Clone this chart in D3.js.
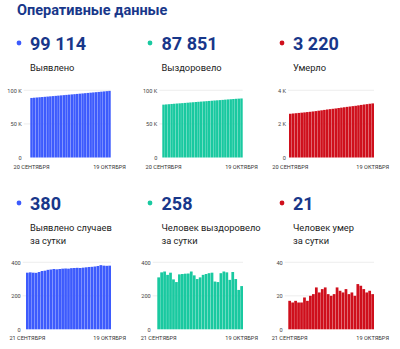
<!DOCTYPE html>
<html>
<head>
<meta charset="utf-8">
<script src="https://cdn.jsdelivr.net/npm/d3@7/dist/d3.min.js"></script>
<style>
  html, body { margin: 0; padding: 0; background: #fff; }
  svg { display: block; font-family: Roboto, "Noto Sans", sans-serif; }
</style>
</head>
<body>
<svg id="chart" width="400" height="349"></svg>
<script>
// Cumulative totals, 20 September – 19 October
const totalCases = [88622, 88960, 89300, 89638, 89975, 90317, 90665, 91015, 91370, 91727,
  92087, 92445, 92805, 93167, 93530, 93892, 94257, 94623, 94990, 95356,
  95724, 96094, 96466, 96839, 97214, 97592, 97975, 98355, 98734, 99114];
const totalRecovered = [78668, 78978, 79318, 79663, 79988, 80326, 80624, 80906, 81234, 81564,
  81896, 82229, 82574, 82896, 83196, 83506, 83831, 84161, 84496, 84834,
  85119, 85401, 85736, 86081, 86421, 86716, 87058, 87358, 87593, 87851];
const totalDeaths = [2603, 2620, 2636, 2653, 2669, 2685, 2704, 2721, 2741, 2762,
  2787, 2809, 2833, 2858, 2879, 2899, 2920, 2945, 2968, 2990,
  3014, 3035, 3057, 3077, 3104, 3130, 3154, 3176, 3199, 3220];

// Daily figures, 21 September – 19 October
const dailyCases = [338, 340, 338, 337, 342, 348, 350, 355, 357, 360, 358, 360, 362, 363, 362,
  365, 366, 367, 366, 368, 370, 372, 373, 375, 378, 383, 380, 379, 380];
const dailyRecovered = [310, 340, 345, 325, 338, 298, 282, 328, 330, 332, 333, 345, 322, 300, 310,
  325, 330, 335, 338, 285, 282, 335, 345, 340, 295, 342, 300, 235, 258];
const dailyDeaths = [17, 16, 17, 16, 16, 19, 17, 20, 21, 25, 22, 24, 25, 21, 20,
  21, 25, 23, 22, 24, 21, 22, 20, 27, 26, 24, 22, 23, 21];

const headline = "Оперативные данные";
const headlineNumbers = ["99 114", "87 851", "3 220", "380", "258", "21"];
const panelTitles = [["Выявлено"], ["Выздоровело"], ["Умерло"],
  ["Выявлено случаев", "за сутки"], ["Человек выздоровело", "за сутки"], ["Человек умер", "за сутки"]];
const totalDateLabels = ["20 СЕНТЯБРЯ", "19 ОКТЯБРЯ"];
const dailyDateLabels = ["21 СЕНТЯБРЯ", "19 ОКТЯБРЯ"];
const totalTicksK = [0, 50000, 100000];
const totalTicksDeaths = [0, 2000, 4000];
const dailyTicks = [0, 200, 400];
const dailyTicksDeaths = [0, 20, 40];

const BLUE = "#3d5bfd", TEAL = "#19c9a0", RED = "#cf0f1c";
const NAVY = "#18378a";

const fmtK = d => d === 0 ? "0" : (d / 1000) + " K";
const fmtPlain = d => String(d);

// layout for each panel
const panels = [
  { values: totalCases, color: BLUE, ticks: totalTicksK, max: 100000, fmt: fmtK, dates: totalDateLabels,
    col: 0, row: 0, x0: 30.3, x1: 110.7, labelX: 21.7 },
  { values: totalRecovered, color: TEAL, ticks: totalTicksK, max: 100000, fmt: fmtK, dates: totalDateLabels,
    col: 1, row: 0, x0: 162.3, x1: 242.7, labelX: 157.3 },
  { values: totalDeaths, color: RED, ticks: totalTicksDeaths, max: 4000, fmt: fmtK, dates: totalDateLabels,
    col: 2, row: 0, x0: 289, x1: 374, labelX: 286 },
  { values: dailyCases, color: BLUE, ticks: dailyTicks, max: 400, fmt: fmtPlain, dates: dailyDateLabels,
    col: 0, row: 1, x0: 26, x1: 111, labelX: 20.7 },
  { values: dailyRecovered, color: TEAL, ticks: dailyTicks, max: 400, fmt: fmtPlain, dates: dailyDateLabels,
    col: 1, row: 1, x0: 157.3, x1: 243, labelX: 150.7 },
  { values: dailyDeaths, color: RED, ticks: dailyTicksDeaths, max: 40, fmt: fmtPlain, dates: dailyDateLabels,
    col: 2, row: 1, x0: 288.3, x1: 374, labelX: 282.7 }
];

const colText = [30, 161.5, 293];
const colDot = [19, 150, 282];
const rows = [
  { numY: 49.5, titleY: 70.5, plotTop: 90.3, plotBottom: 157.5, dateY: 169.3 },
  { numY: 209.5, titleY: 230.5, plotTop: 262.3, plotBottom: 329.3, dateY: 340.3 }
];

const svg = d3.select("#chart");

svg.append("text")
  .attr("x", 17).attr("y", 15)
  .attr("font-size", 14.5).attr("font-weight", 700)
  .attr("fill", NAVY)
  .text(headline);

panels.forEach((p, i) => {
  const r = rows[p.row];
  const g = svg.append("g");

  // headline figure with coloured marker
  g.append("circle")
    .attr("cx", colDot[p.col]).attr("cy", r.numY - 6.5).attr("r", 2.4)
    .attr("fill", p.color);
  g.append("text")
    .attr("x", colText[p.col]).attr("y", r.numY)
    .attr("font-size", 18).attr("font-weight", 700)
    .attr("fill", NAVY)
    .text(headlineNumbers[i]);

  // title
  panelTitles[i].forEach((line, k) => {
    g.append("text")
      .attr("x", colText[p.col]).attr("y", r.titleY + k * 13)
      .attr("font-size", 9.3).attr("fill", "#222")
      .text(line);
  });

  const x = d3.scaleBand()
    .domain(d3.range(p.values.length))
    .range([p.x0, p.x1])
    .paddingInner(0.08).paddingOuter(0);
  const y = d3.scaleLinear()
    .domain([0, p.max])
    .range([r.plotBottom, r.plotTop]);

  // gridlines
  g.append("g")
    .selectAll("line")
    .data(p.ticks.filter(t => t > 0))
    .join("line")
    .attr("x1", p.labelX + 2).attr("x2", p.x1)
    .attr("y1", d => y(d)).attr("y2", d => y(d))
    .attr("stroke", "#e8e8e8").attr("stroke-width", 0.8);

  // y axis labels
  const axis = g.append("g")
    .attr("transform", `translate(${p.labelX},0)`)
    .call(d3.axisLeft(y).tickValues(p.ticks).tickFormat(p.fmt).tickSize(0).tickPadding(0));
  axis.select(".domain").remove();
  axis.selectAll("text")
    .attr("font-size", 5.6).attr("fill", "#444")
    .attr("font-family", "Roboto, sans-serif");

  // bars
  g.append("g")
    .selectAll("rect")
    .data(p.values)
    .join("rect")
    .attr("x", (d, k) => x(k))
    .attr("width", x.bandwidth())
    .attr("y", d => y(d))
    .attr("height", d => y(0) - y(d))
    .attr("fill", p.color);

  // first and last date
  const n = p.values.length;
  [[0, p.dates[0]], [n - 1, p.dates[1]]].forEach(([k, label]) => {
    g.append("text")
      .attr("x", x(k) + x.bandwidth() / 2)
      .attr("y", r.dateY)
      .attr("text-anchor", "middle")
      .attr("font-size", 5.6).attr("fill", "#333")
      .text(label);
  });
});
</script>
</body>
</html>
